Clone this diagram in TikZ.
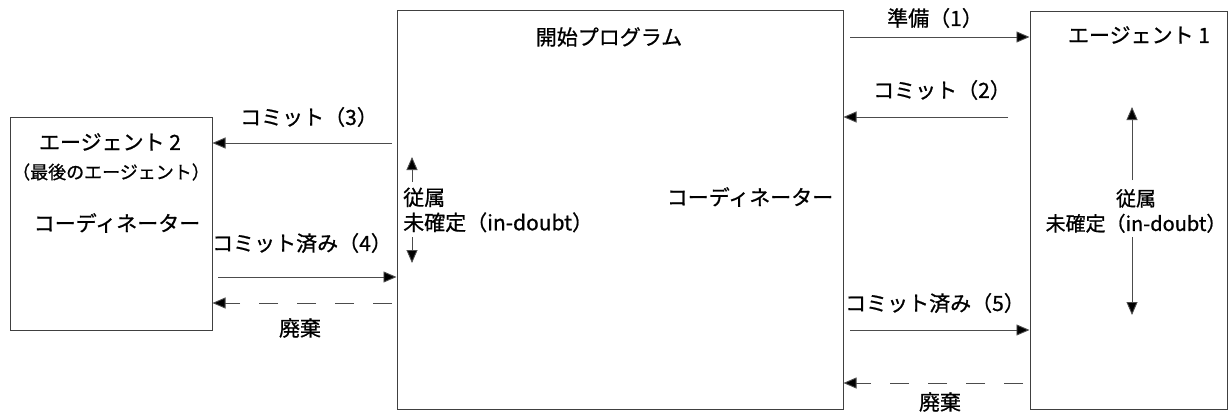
\documentclass[tikz,border=0pt]{standalone}
\usepackage{fontspec}
\setmainfont{Noto Sans CJK JP}[BoldFont={Noto Sans CJK JP},BoldFeatures={FakeBold=0.8}]
\usetikzlibrary{arrows.meta}
\begin{document}
\begin{tikzpicture}[x=1pt,y=-1pt,
  box/.style={draw=black!75,line width=1pt,inner sep=0pt},
  lab/.style={inner sep=0pt,font=\fontsize{21}{25}\selectfont\bfseries},
  small/.style={inner sep=0pt,font=\fontsize{18}{20}\selectfont\bfseries},
  arr/.style={draw=black!70,line width=0.9pt,-{Triangle[length=13pt,width=11pt,fill=black]}},
  darr/.style={arr,dash pattern=on 19pt off 19pt}]
\useasboundingbox (0,0) rectangle (1228,415);
% boxes
\node[box,minimum width=202pt,minimum height=213pt] (a2) at (111,223.5) {};
\node[box,minimum width=446pt,minimum height=399pt] (main) at (620,209.5) {};
\node[box,minimum width=197pt,minimum height=398pt] (a1) at (1128.5,210) {};
% box texts
\node[lab] (t1) at (1139,35) {エージェント 1};
\node[lab] (t2) at (110,142) {エージェント 2};
\node[small] (t2b) at (111,172) {（最後のエージェント）};
\node[lab] (t2c) at (117,223) {コーディネーター};
\node[lab] (tm) at (609,37) {開始プログラム};
\node[lab] (tmc) at (750,197) {コーディネーター};
\node[lab,anchor=west,align=left] (ind) at (403,210) {従属\\未確定（in-doubt）};
\node[lab,font=\fontsize{20}{25}\selectfont\bfseries,align=center] (ind1) at (1136,211) {従属\\未確定（in-doubt）};
% coordinates
\coordinate (s1) at (850,37);
\coordinate (s2) at (1008,117);
\coordinate (s5) at (850,330);
\coordinate (sd1) at (1023,383);
\coordinate (s3) at (392,143);
\coordinate (s4) at (218,277);
\coordinate (sd2) at (392,303);
\coordinate (mu0) at (412,182);
\coordinate (mu1) at (412,157);
\coordinate (md0) at (412,237);
\coordinate (md1) at (412,263);
\coordinate (au0) at (1132,180);
\coordinate (au1) at (1132,107);
\coordinate (ad0) at (1132,237);
\coordinate (ad1) at (1132,315);
% connectors
\draw[arr] (s1) -- (s1 -| a1.west);
\draw[arr] (s2) -- (s2 -| main.east);
\draw[arr] (s5) -- (s5 -| a1.west);
\draw[darr] (sd1) -- (sd1 -| main.east);
\draw[arr] (s3) -- (s3 -| a2.east);
\draw[arr] (s4) -- (s4 -| main.west);
\draw[darr] (sd2) -- (sd2 -| a2.east);
\draw[arr] (mu0) -- (mu1);
\draw[arr] (md0) -- (md1);
\draw[arr] (au0) -- (au1);
\draw[arr] (ad0) -- (ad1);
% connector labels
\node[lab] (l1) at (935,18) {準備（1）};
\node[lab] (l2) at (942,90) {コミット（2）};
\node[lab] (l5) at (935,303) {コミット済み（5）};
\node[lab] (ld1) at (940,402) {廃棄};
\node[lab] (l3) at (309,117) {コミット（3）};
\node[lab] (l4) at (302,243) {コミット済み（4）};
\node[lab] (ld2) at (300,328) {廃棄};
\end{tikzpicture}
\end{document}
